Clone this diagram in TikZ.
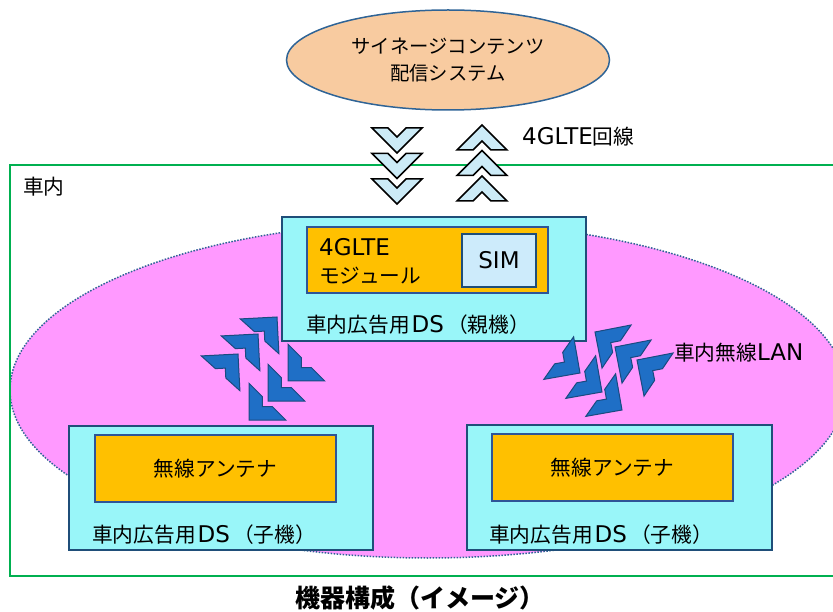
\documentclass[tikz,border=0pt]{standalone}
\usepackage{fontspec}
\setmainfont{DejaVu Sans}
\newfontfamily\jp[Scale=0.9]{Noto Sans CJK JP}
\newfontfamily\jpcap{Noto Sans CJK JP}
\usepackage{tikz}
\usetikzlibrary{shapes.geometric}

\definecolor{peach}{HTML}{F8CBA0}
\definecolor{rimblue}{HTML}{2F6496}
\definecolor{cargreen}{HTML}{00B050}
\definecolor{wlanpink}{HTML}{FF99FF}
\definecolor{dscyan}{HTML}{99F6F9}
\definecolor{boxline}{HTML}{1F4E79}
\definecolor{gold}{HTML}{FFC000}
\definecolor{goldline}{HTML}{2E5597}
\definecolor{simblue}{HTML}{CDEBFB}
\definecolor{ltelight}{HTML}{CCEBF7}
\definecolor{wlanblue}{HTML}{1F6FC6}
\definecolor{wlanline}{HTML}{1A4A80}

% chevrons: style, apex x, apex y, turn
\newcommand{\chevron}[4]{\draw [#1, shift={(#2,#3)}, rotate=#4] (0,0) -- (25,25) -- (9,25) -- (0,16) -- (-9,25) -- (-25,25) -- cycle;}
\newcommand{\thickchevron}[4]{\draw [#1, shift={(#2,#3)}, rotate=#4] (0,0) -- (26,26) -- (7,26) -- (0,19) -- (-7,26) -- (-26,26) -- cycle;}

\begin{document}
\begin{tikzpicture}[x=1pt,y=-1pt]

			\tikzstyle{ds box}=[draw=boxline, line width=1.5pt, fill=dscyan, minimum width=304pt, minimum height=124pt]
			\tikzstyle{gold box}=[draw=goldline, line width=1.5pt, fill=gold, minimum width=241pt, minimum height=66pt, font=\fontsize{23}{28}\selectfont\jp]
			\tikzstyle{lbl}=[anchor=west, inner sep=0pt, font=\fontsize{23}{28}\selectfont]
			\tikzstyle{lte arrow}=[fill=ltelight, draw=black, line width=1.5pt]
			\tikzstyle{wlan arrow}=[fill=wlanblue, draw=wlanline, line width=1pt]

		%frame
		\useasboundingbox (0,0) rectangle (833,612);
		\clip (0,0) rectangle (833,612);

		%pink wireless area
		\draw [fill=wlanpink, draw=rimblue, line width=1.5pt, dash pattern=on 1.5pt off 1.5pt] (428,390) ellipse [x radius=418pt, y radius=168pt];

		%green car outline
		\draw [cargreen, line width=1.5pt] (10,165) rectangle (845,576);
		\node [lbl] (car) at (23,187) {\jp 車内};

		%content server
		\node [ellipse, draw=rimblue, line width=1.5pt, fill=peach, minimum width=323pt, minimum height=100pt, align=center, font=\fontsize{21.5}{27}\selectfont\jp] (signage) at (448,60) {サイネージコンテンツ\\配信システム};

		%4GLTE down and up
		\chevron{lte arrow}{397}{153}{180}
		\chevron{lte arrow}{397}{178.5}{180}
		\chevron{lte arrow}{397}{204}{180}
		\chevron{lte arrow}{482}{125}{0}
		\chevron{lte arrow}{482}{150.5}{0}
		\chevron{lte arrow}{482}{176}{0}
		\node [lbl] (lteline) at (522,137) {4GLTE{\jp 回線}};

		%parent DS
		\node [ds box] (parentDS) at (434,279) {};
		\node [gold box] (lteMod) at (427.5,260) {};
		\node [draw=boxline, line width=1.5pt, fill=simblue, minimum width=74pt, minimum height=53pt, font=\fontsize{23}{28}\selectfont] (sim) at (499,260.5) {SIM};
		\node [lbl, align=left] (lteText) at (319,261) {4GLTE\\{\jp モジュール}};
		\node [lbl] (parentText) at (306,325) {{\jp 車内広告用}\hspace{2pt}DS\hspace{3pt}{\jp （親機）}};

		%child DS left
		\node [ds box] (leftDS) at (221,488) {};
		\node [gold box, minimum height=67pt] (leftAnt) at (215.5,468.5) {無線アンテナ};
		\node [lbl] (leftText) at (92,535) {{\jp 車内広告用}\hspace{2pt}DS\hspace{3pt}{\jp （子機）}};

		%child DS right
		\node [ds box, minimum width=305pt, minimum height=125pt] (rightDS) at (619.5,487.5) {};
		\node [gold box, minimum height=67pt] (rightAnt) at (612.5,467.5) {無線アンテナ};
		\node [lbl] (rightText) at (489,535) {{\jp 車内広告用}\hspace{2pt}DS\hspace{3pt}{\jp （子機）}};

		%wireless LAN left
		\thickchevron{wlan arrow}{277}{317}{-42}
		\thickchevron{wlan arrow}{258}{334}{-42}
		\thickchevron{wlan arrow}{238}{354}{-42}
		\thickchevron{wlan arrow}{288}{381}{135}
		\thickchevron{wlan arrow}{268}{401}{135}
		\thickchevron{wlan arrow}{249}{420}{135}

		%wireless LAN right
		\thickchevron{wlan arrow}{595}{332}{56}
		\thickchevron{wlan arrow}{615}{347}{56}
		\thickchevron{wlan arrow}{637}{360}{56}
		\thickchevron{wlan arrow}{580}{373}{-125}
		\thickchevron{wlan arrow}{602}{392}{-125}
		\thickchevron{wlan arrow}{622}{410}{-125}
		\node [lbl] (wlan) at (674,353) {{\jp 車内無線}LAN};

		%caption
		\node [inner sep=0pt, font=\fontsize{25}{28}\selectfont\jpcap\bfseries] (caption) at (420,598) {機器構成（イメージ）};

\end{tikzpicture}
\end{document}
